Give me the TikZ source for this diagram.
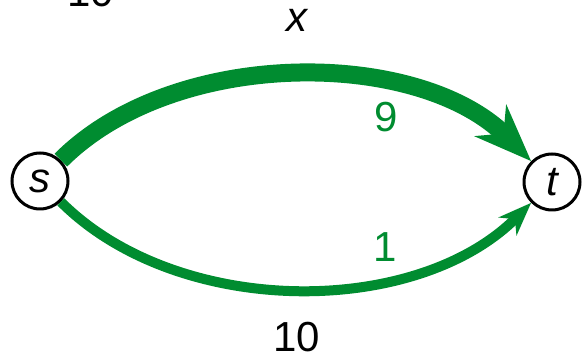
\documentclass[tikz,border=0pt]{standalone}
\usepackage{fontspec}
\setmainfont{Liberation Sans}
\usepackage{xcolor}
\usetikzlibrary{arrows.meta,positioning}
\definecolor{flowgreen}{RGB}{0,140,48}
\tikzset{
  vtx/.style={draw, circle, line width=3pt, minimum size=56pt, inner sep=0pt,
              font=\fontsize{42}{48}\selectfont\itshape},
  lbl/.style={inner sep=0pt, font=\fontsize{42}{48}\selectfont},
  flbl/.style={lbl, text=flowgreen},
  bigflow/.style={flowgreen, line width=18pt,
                  -{Stealth[length=57pt, width=44pt, inset=18pt]}},
  smallflow/.style={flowgreen, line width=10pt,
                  -{Stealth[length=33pt, width=25pt, inset=10pt]}},
}

\begin{document}
\begin{tikzpicture}[x=1pt, y=1pt]
  \useasboundingbox (0,0) rectangle (583,358);
  % vertices
  \node[vtx] (s) at (40,177) {s};
  \node[vtx] (t) at (552,176) {t};
  % edges
  \draw[bigflow] (s) to[out=45, in=135, distance=160pt] (t);
  \draw[smallflow] (s) to[out=-45, in=-135, distance=164pt] (t);
  % capacities and flows
  \node[lbl] (xcap) at (297,338) {\itshape x};
  \node[flbl] (upflow) at (386,241) {9};
  \node[lbl] (lowcap) at (297,21) {10};
  \node[flbl] (lowflow) at (385,111) {1};
  \node[lbl] (topcut) at (91,366) {10};
\end{tikzpicture}
\end{document}
